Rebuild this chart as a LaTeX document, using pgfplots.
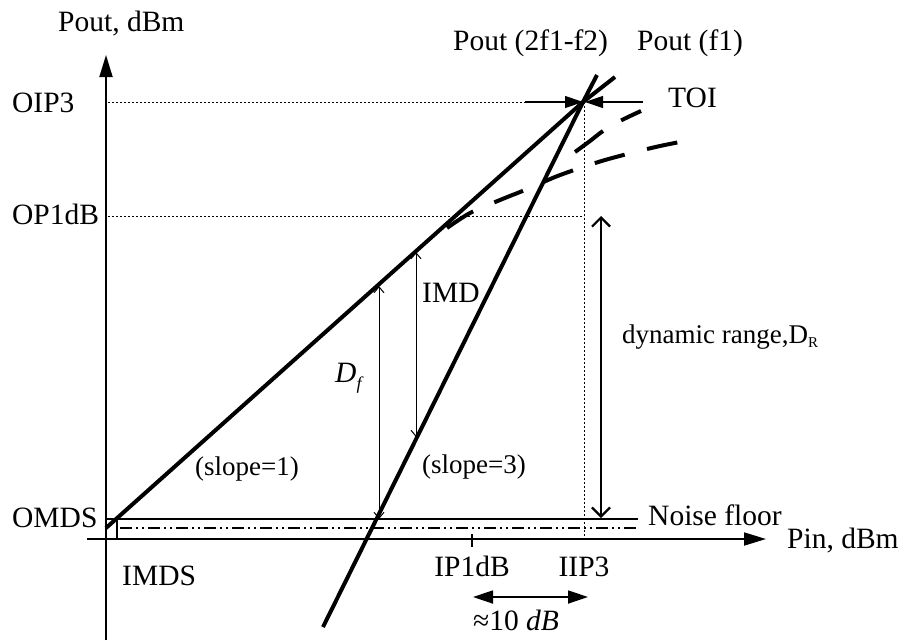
\documentclass[border=0pt]{standalone}
\usepackage{pgfplots}
\pgfplotsset{compat=1.18}
\usepackage{fontspec}
\setmainfont{Liberation Serif}
\usetikzlibrary{arrows.meta}
\tikzset{lbl/.style={font=\fontsize{29.5}{32}\selectfont, inner sep=0pt},
         lbs/.style={font=\fontsize{27}{30}\selectfont, inner sep=0pt}}
\begin{document}
\begin{tikzpicture}
\begin{axis}[scale only axis, width=907pt, height=640pt,
  xmin=0, xmax=907, ymin=0, ymax=640, y dir=reverse,
  hide axis, clip=false]
\addplot[draw=none] coordinates {(0,0) (907,640)};
% axes
\addplot[line width=1.8pt, -{Triangle[length=22pt,width=13pt]}] coordinates {(106,640) (106,55)};
\addplot[line width=1.8pt, -{Triangle[length=22pt,width=13pt]}] coordinates {(87,539) (766,539)};
% dotted guides
\addplot[line width=1pt, dash pattern=on 2pt off 2pt] coordinates {(108,102) (584,102)};
\addplot[line width=1pt, dash pattern=on 2pt off 2pt] coordinates {(108,216) (584,216)};
\addplot[line width=1pt, dash pattern=on 2pt off 2pt] coordinates {(584,102) (584,539)};
% noise floor
\addplot[line width=1.3pt] coordinates {(106,519) (638,519)};
\addplot[line width=1.1pt, dash pattern=on 12pt off 4pt on 2pt off 4pt on 2pt off 4pt] coordinates {(120,528) (638,528)};
\addplot[line width=1.1pt] coordinates {(117,519) (117,539)};
% IP1dB tick
\addplot[line width=1.1pt] coordinates {(472,534) (472,547)};
% main lines
\addplot[line width=4pt] coordinates {(106,528) (583,102) (615,77)};
\addplot[line width=4pt] coordinates {(323,627) (583,102) (597,75)};
% compression curves (dashed)
\addplot[line width=4pt, smooth, dash pattern=on 31pt off 23pt] coordinates {(447,228) (470,213) (500,200) (530,188) (555,177) (580,168) (605,160) (635,152) (660,146) (685,141)};
\addplot[line width=4pt, smooth, dash pattern=on 35pt off 21pt] coordinates {(575,152) (590,141) (603,131) (622,120) (641,111)};
% TOI arrows
\addplot[line width=1.2pt, -{Triangle[length=18pt,width=12pt]}] coordinates {(525,102) (583,102)};
\addplot[line width=1.2pt, -{Triangle[length=18pt,width=12pt]}] coordinates {(643,102) (585,102)};
% 10 dB arrow
\addplot[line width=1.8pt, {Triangle[length=20pt,width=13pt]}-{Triangle[length=20pt,width=13pt]}] coordinates {(473,597) (588,597)};
% dynamic range arrow
\addplot[line width=2.2pt, {Straight Barb[length=9pt,width=18pt]}-{Straight Barb[length=9pt,width=18pt]}] coordinates {(601,216) (601,518)};
% D_f and IMD arrows
\addplot[line width=1pt, {Straight Barb[length=6pt,width=10pt]}-{Straight Barb[length=6pt,width=10pt]}] coordinates {(379,286) (379,519)};
\addplot[line width=1pt, {Straight Barb[length=6pt,width=10pt]}-{Straight Barb[length=6pt,width=10pt]}] coordinates {(416,252) (416,437)};
% labels
\node[lbl, anchor=base west] at (axis cs:58,31) {Pout, dBm};
\node[lbl, anchor=base west] at (axis cs:12,112) {OIP3};
\node[lbl, anchor=base west] at (axis cs:12,224) {OP1dB};
\node[lbl, anchor=base west] at (axis cs:12,527) {OMDS};
\node[lbl, anchor=base west] at (axis cs:122,585) {IMDS};
\node[lbl, anchor=base] at (axis cs:472,576) {IP1dB};
\node[lbl, anchor=base] at (axis cs:584,576) {IIP3};
\node[lbl, anchor=base] at (axis cs:516,630) {≈10 \textit{dB}};
\node[lbl, anchor=base west] at (axis cs:648,525) {Noise floor};
\node[lbl, anchor=base west] at (axis cs:787,548) {Pin, dBm};
\node[lbl, anchor=base west] at (axis cs:668,107) {TOI};
\node[lbl, anchor=base west] at (axis cs:453,50) {Pout (2f1-f2)};
\node[lbl, anchor=base west] at (axis cs:637,50) {Pout (f1)};
\node[lbs, anchor=base west] at (axis cs:622,343) {dynamic range,D\raisebox{-4pt}{\fontsize{15}{17}\selectfont R}};
\node[lbl, anchor=base west] at (axis cs:422,302) {IMD};
\node[lbl, anchor=base west] at (axis cs:335,382) {\textit{D}\raisebox{-7pt}{\fontsize{18}{20}\selectfont\itshape f}};
\node[lbs, anchor=base west] at (axis cs:195,475) {(slope=1)};
\node[lbs, anchor=base west] at (axis cs:422,473) {(slope=3)};
\end{axis}
\end{tikzpicture}
\end{document}
